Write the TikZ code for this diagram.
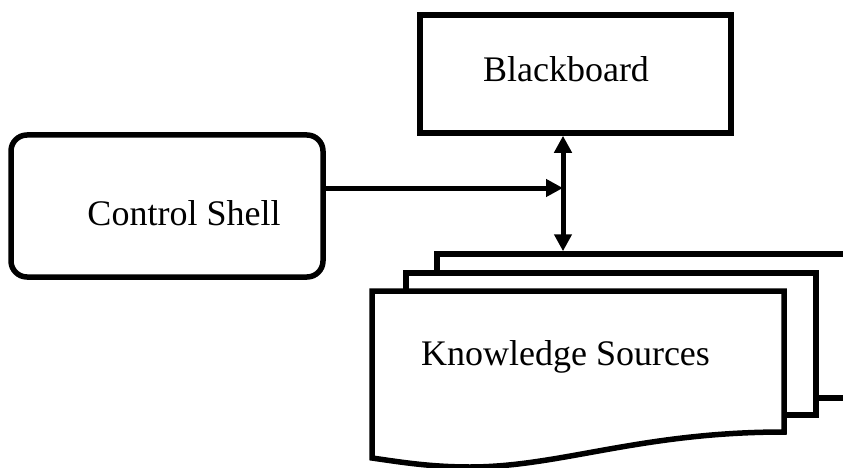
\documentclass[tikz,border=0pt]{standalone}
\usepackage{fontspec}
\setmainfont{Liberation Serif}
\usetikzlibrary{arrows.meta,positioning,calc}

\begin{document}
\begin{tikzpicture}[x=1pt,y=-1pt,
  board/.style={rectangle,draw,line width=5.5pt,minimum width=311pt,minimum height=118pt},
  shell/.style={rectangle,draw,line width=5.5pt,rounded corners=16pt,minimum width=312pt,minimum height=142pt},
  sheet/.style={draw,fill=white,line width=5.5pt},
  lbl/.style={font=\fontsize{36}{40}\selectfont,anchor=base,inner sep=0pt},
  arr/.style={-{Triangle[length=17pt,width=17pt]},line width=5pt},
  darr/.style={{Triangle[length=17pt,width=17pt]}-{Triangle[length=17pt,width=17pt]},line width=5pt}
]
\useasboundingbox (0,0) rectangle (843,468);
\node[board] (bb) at (575.5,74) {};
\node[shell] (cs) at (167,206) {};
\node[lbl] (bbtext) at (566,82) {Blackboard};
\node[lbl] (cstext) at (184,225) {Control Shell};
% stacked knowledge sources
\coordinate (backtop) at (437,254);
\draw[sheet] (backtop) rectangle (870,398);
\draw[sheet] (406,273) rectangle (816,415);
\draw[sheet] (372,291) -- (784,291) -- (784,432)
  .. controls (640,432) and (560,467) .. (470,467)
  .. controls (430,467) and (400,462) .. (372,458) -- cycle;
\node[lbl] (kstext) at (565.5,365) {Knowledge Sources};
% connectors
\coordinate (junc) at (563,188);
\draw[arr] (cs.east |- junc) -- (junc);
\draw[darr,shorten >=2.75pt] (junc |- bb.south) -- (junc |- backtop);
\end{tikzpicture}
\end{document}
